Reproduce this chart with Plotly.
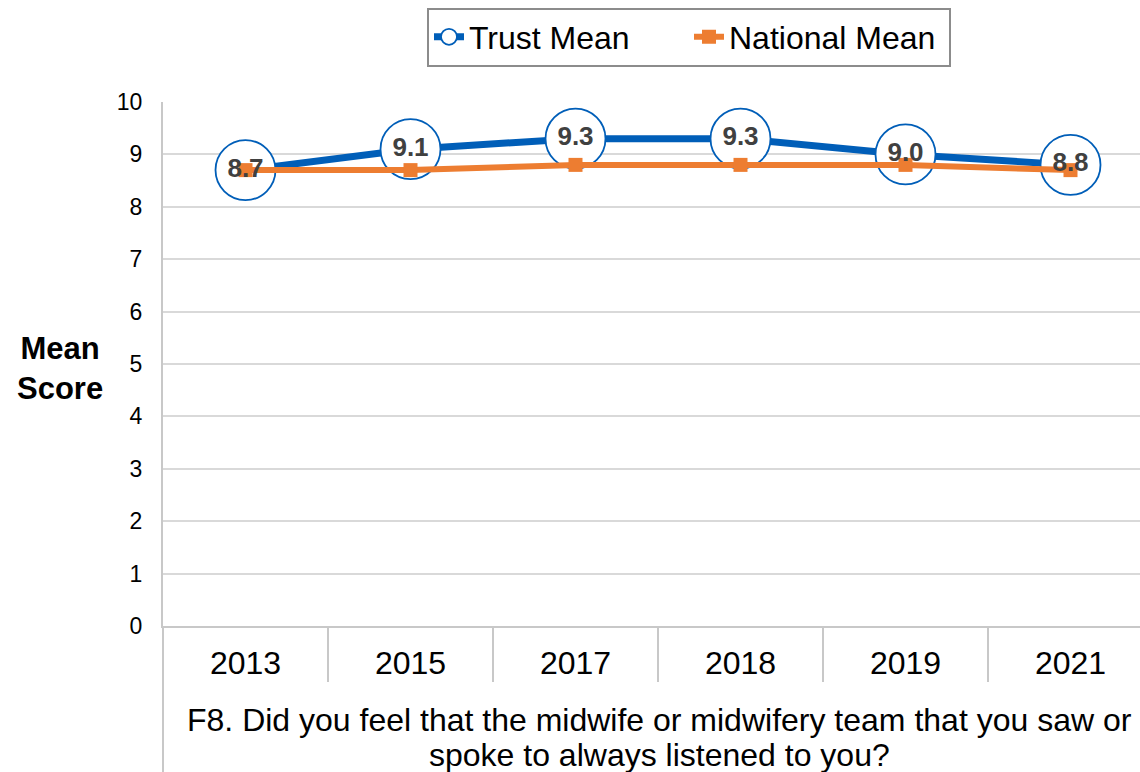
import plotly.graph_objects as go

# Survey years and mean scores
years = ["2013", "2015", "2017", "2018", "2019", "2021"]
trust_mean = [8.7, 9.1, 9.3, 9.3, 9.0, 8.8]
national_mean = [8.7, 8.7, 8.8, 8.8, 8.8, 8.7]
y_ticks = list(range(0, 11))
question_lines = ["F8. Did you feel that the midwife or midwifery team that you saw or",
                  "spoke to always listened to you?"]

BLUE = "#005EB8"
ORANGE = "#ED7D31"
FONT = "Liberation Sans, Arial, sans-serif"

W, H = 1140, 772
L, R, T, B = 163, 0, 102, 146
plot_h = H - T - B
plot_w = W - L - R
CAT_W = 165  # pixel width of one category slot; the last slot runs past the edge
x_hi = -0.5 + plot_w / CAT_W

fig = go.Figure()

# Trust line with large white circular markers
fig.add_trace(go.Scatter(
    x=years, y=trust_mean, name="Trust Mean", mode="lines+markers",
    line=dict(color=BLUE, width=7),
    marker=dict(symbol="circle", size=60, color="white",
                line=dict(color=BLUE, width=1.8)),
))

# National line with square markers
fig.add_trace(go.Scatter(
    x=years, y=national_mean, name="National Mean", mode="lines+markers",
    line=dict(color=ORANGE, width=6),
    marker=dict(symbol="square", size=14, color=ORANGE),
))

# Value labels drawn on top of both lines
fig.add_trace(go.Scatter(
    x=years, y=trust_mean, mode="text", showlegend=False,
    text=[f"{v:.1f}" for v in trust_mean], textposition="middle center",
    textfont=dict(family=FONT, size=26, color="#404040", weight="bold"),
    hoverinfo="skip",
))

# Category dividers below the x axis
shapes = []
for i in range(len(years) - 1):
    shapes.append(dict(type="line", xref="x", yref="paper",
                       x0=i + 0.5, x1=i + 0.5, y0=0, y1=-56 / plot_h,
                       line=dict(color="#c8c8c8", width=2)))
# Left axis line extended through the label area
shapes.append(dict(type="line", xref="paper", yref="paper",
                   x0=0, x1=0, y0=0, y1=-B / plot_h,
                   line=dict(color="#c8c8c8", width=2)))

annotations = [
    dict(text="<b>Mean<br>Score</b>", xref="paper", yref="paper",
         x=(60 - L) / plot_w, y=(H - B - 368) / plot_h,
         xanchor="center", yanchor="middle", showarrow=False,
         font=dict(family=FONT, size=31, color="black")),
]
# Axis question, one annotation per line
for line_text, y_px in zip(question_lines, [720, 755]):
    annotations.append(dict(
        text=line_text, xref="paper", yref="paper",
        x=(659 - L) / plot_w, y=(H - B - y_px) / plot_h,
        xanchor="center", yanchor="middle", showarrow=False,
        font=dict(family=FONT, size=32, color="black")))

fig.update_layout(
    width=W, height=H,
    margin=dict(l=L, r=R, t=T, b=B),
    paper_bgcolor="white", plot_bgcolor="white",
    font=dict(family=FONT, color="black"),
    showlegend=True,
    legend=dict(orientation="h", x=(689 - L) / plot_w, xanchor="center",
                y=1 + (T - 37) / plot_h, yanchor="middle",
                bordercolor="#8c8c8c", borderwidth=2, bgcolor="white",
                font=dict(family=FONT, size=32, color="black"),
                itemwidth=30, entrywidth=215, tracegroupgap=0),
    xaxis=dict(type="category", range=[-0.5, x_hi], showgrid=False,
               showline=True, linecolor="#c8c8c8", linewidth=2,
               ticks="outside", ticklen=8, tickcolor="rgba(0,0,0,0)",
               tickfont=dict(family=FONT, size=32, color="black"),
               zeroline=False, fixedrange=True),
    yaxis=dict(range=[0, 10], tickvals=y_ticks, showgrid=True,
               gridcolor="#d9d9d9", gridwidth=1.5,
               showline=True, linecolor="#c8c8c8", linewidth=2,
               ticks="outside", ticklen=14, tickcolor="rgba(0,0,0,0)",
               tickfont=dict(family=FONT, size=23, color="black"),
               zeroline=False, fixedrange=True),
    shapes=shapes,
    annotations=annotations,
)

fig.write_html("out.html")
